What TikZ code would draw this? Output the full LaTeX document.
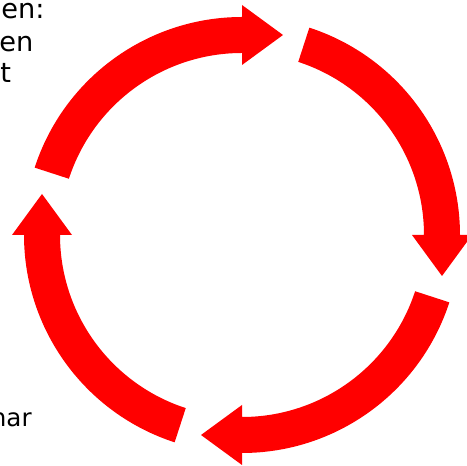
\documentclass[tikz,border=0pt]{standalone}
\usepackage{fontspec}
\setmainfont{DejaVu Sans}

\begin{document}
\begin{tikzpicture}[
  x=0.02cm, y=0.02cm,
  lbl/.style={inner sep=0pt, font=\fontsize{15.5}{18}\selectfont, text=black},
  cyclearrow/.style={fill=red, draw=none}
]
  \useasboundingbox (0,0) rectangle (467,466);

  % text cut off by the left edge
  \node[lbl, anchor=base west] (topa) at (1,447) {en:};
  \node[lbl, anchor=base west] (topb) at (-1,414) {en};
  \node[lbl, anchor=base west] (topc) at (0,383) {t};
  \node[lbl, anchor=base east, font=\fontsize{14}{17}\selectfont] (botl) at (32,39) {nar};

  % four arrows round the circle, clockwise
  \foreach \r in {0,-90,-180,-270}{
    \begin{scope}[shift={(242,231)}, rotate=\r]
      \fill[cyclearrow] (162:218) arc[start angle=162, end angle=90, radius=218]
        -- (0,230) -- (41,200) -- (0,170) -- (0,182)
        arc[start angle=90, end angle=162, radius=182] -- cycle;
    \end{scope}
  }

\end{tikzpicture}
\end{document}
